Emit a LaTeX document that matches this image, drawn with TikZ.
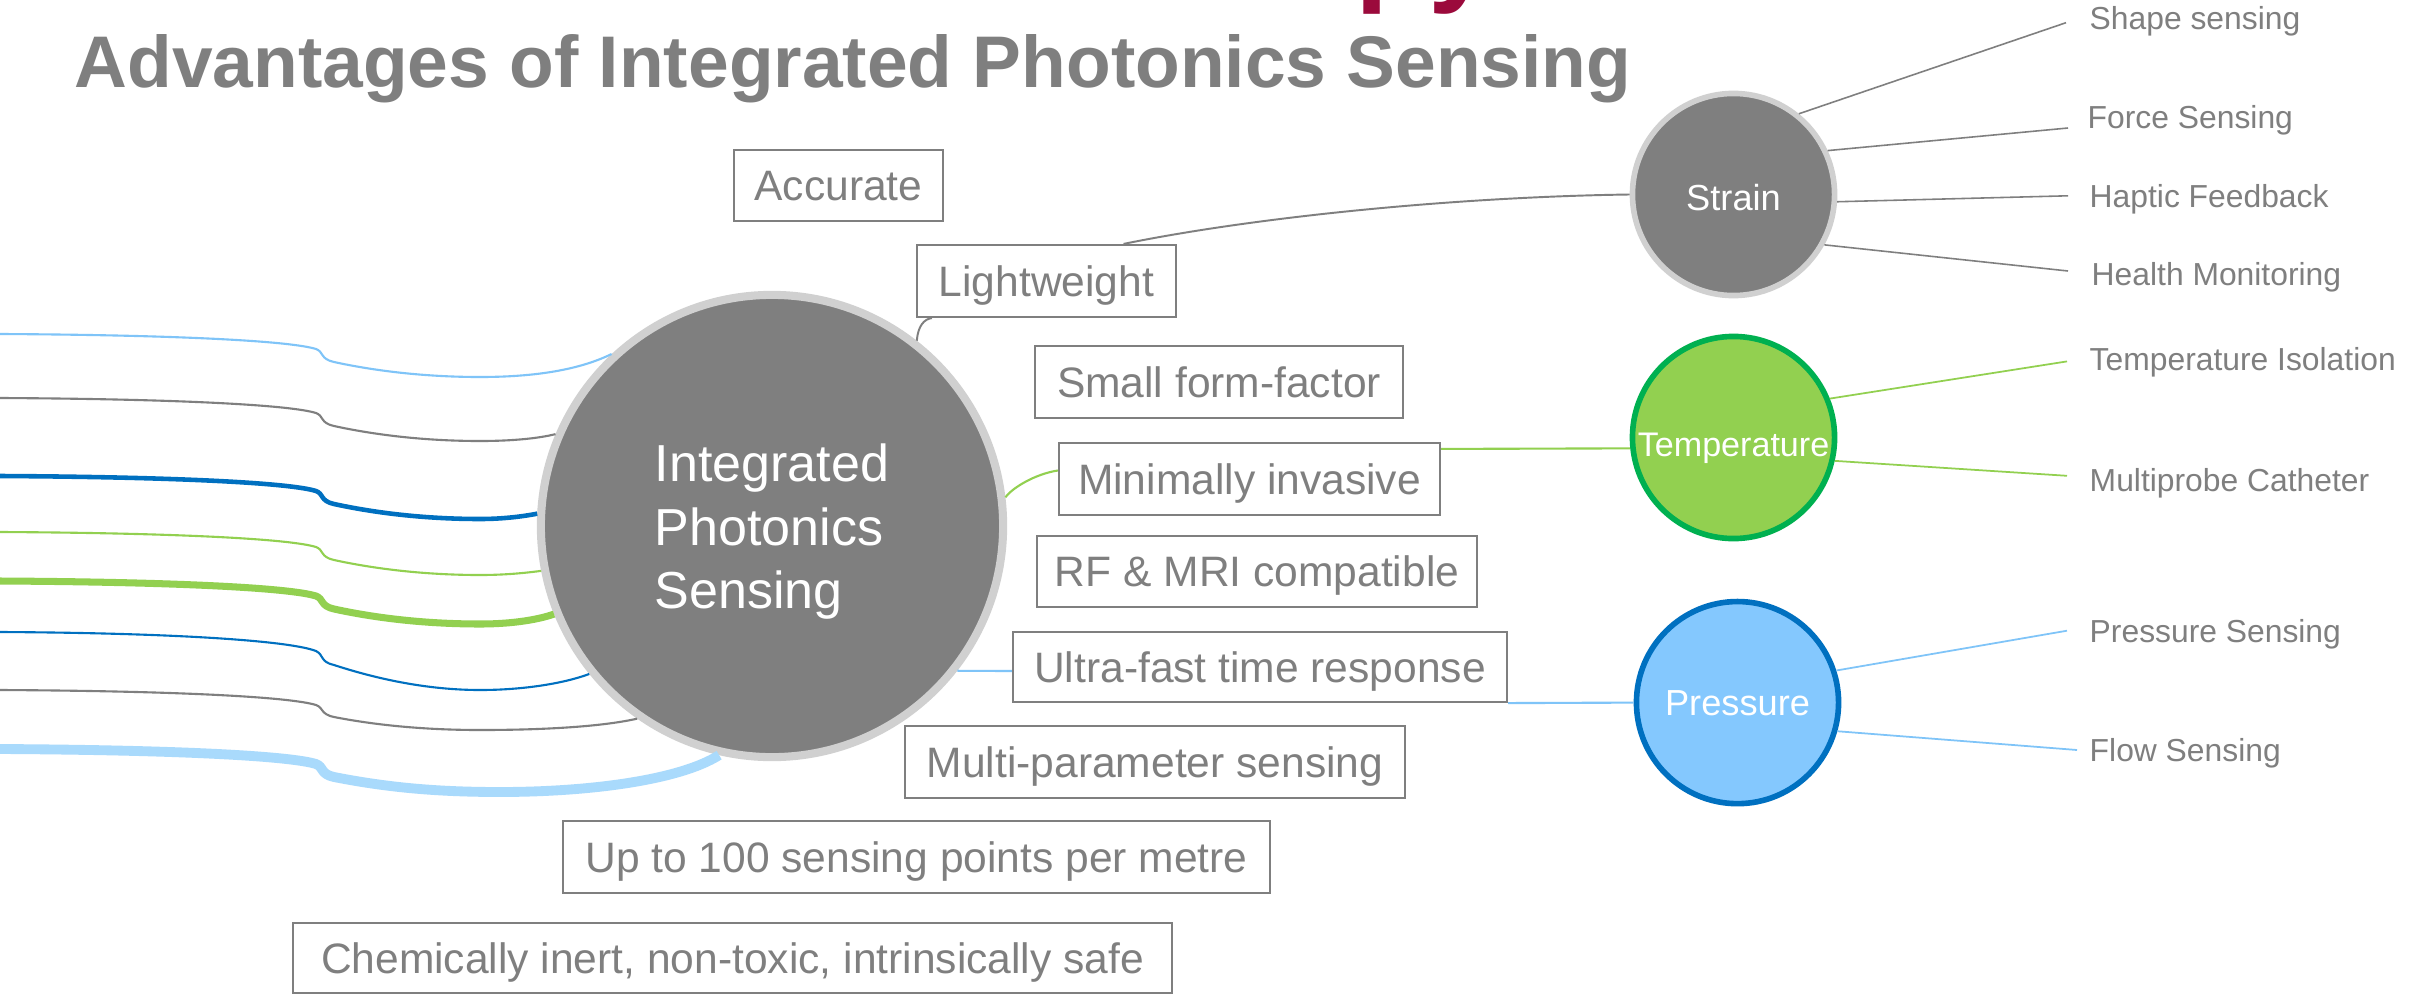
\documentclass[tikz,border=0pt]{standalone}
\usepackage{fontspec}
\setmainfont{Liberation Sans}
\usetikzlibrary{calc}
\definecolor{tgray}{HTML}{7F7F7F}
\definecolor{ringgray}{HTML}{D0D0D0}
\definecolor{lgreen}{HTML}{92D050}
\definecolor{dgreen}{HTML}{00B050}
\definecolor{lblue}{HTML}{84C8FE}
\definecolor{dblue}{HTML}{0070C0}
\definecolor{lbline}{HTML}{7FC4F8}
\definecolor{paleblue}{HTML}{A9DAFC}
\definecolor{headred}{HTML}{9B0A3C}
\begin{document}
\begin{tikzpicture}[x=0.01cm,y=0.01cm,
  advbox/.style={draw=tgray, line width=0.6pt, fill=white, text=tgray, inner sep=0pt,
    minimum height=0.71cm, font=\fontsize{12.1pt}{14pt}\selectfont, text height=8.66pt, text depth=0pt},
  leaf/.style={anchor=west, inner sep=0pt, text=tgray, font=\fontsize{9.05pt}{10.5pt}\selectfont,
    text height=6.48pt, text depth=0pt},
  bubble/.style={circle, inner sep=0pt, line width=1.6pt, minimum size=2.02cm, text=white},
  sline/.style={draw=tgray, line width=0.45pt},
  tline/.style={draw=lgreen, line width=0.5pt},
  pline/.style={draw=lbline, line width=0.5pt},
  branch/.style={line join=round}]
\useasboundingbox (0,0) rectangle (2419,-994);
\clip (0,0) rectangle (2419,-994);
\fill[white] (0,0) rectangle (2419,-994);

% heading fragments
\node[anchor=base west, inner sep=0pt, text=headred, font=\fontsize{34pt}{40pt}\selectfont\bfseries] (head) at (1355,10) {py};
\node[anchor=base west, inner sep=0pt, text=tgray, font=\fontsize{20.8pt}{24pt}\selectfont\bfseries] (title) at (74,-88) {Advantages of Integrated Photonics Sensing};

% central circle
\node[circle, fill=tgray, draw=ringgray, line width=2.3pt, minimum size=4.62cm, inner sep=0pt, text=white,
  font=\fontsize{14.8pt}{18.07pt}\selectfont] (main) at (772,-526)
  {\raisebox{-1.8pt}[\height][\depth]{\begin{tabular}{@{}l@{}}Integrated\\Photonics\\Sensing\end{tabular}}};

% category circles
\node[bubble, fill=tgray, draw=ringgray, font=\fontsize{10.3pt}{12pt}\selectfont, text height=9pt, text depth=0pt] (strain) at (1733.5,-194.5) {Strain};
\node[bubble, fill=lgreen, draw=dgreen, font=\fontsize{9.7pt}{11pt}\selectfont, text height=10.9pt, text depth=0pt] (temp) at (1733.5,-437.5) {Temperature};
\node[bubble, fill=lblue, draw=dblue, font=\fontsize{10.3pt}{12pt}\selectfont, text height=7.35pt, text depth=0pt] (pres) at (1737.5,-702.6) {Pressure};

% advantage boxes
\node[advbox, minimum width=2.09cm] (acc) at (838.5,-185.5) {Accurate};
\node[advbox, minimum width=2.59cm, minimum height=0.72cm] (lw) at (1046.5,-281) {Lightweight};
\node[advbox, minimum width=3.68cm, minimum height=0.72cm] (sff) at (1219,-382) {Small form-factor};
\node[advbox, minimum width=3.81cm, minimum height=0.72cm] (mi) at (1249.5,-479) {Minimally invasive};
\node[advbox, minimum width=4.40cm] (rf) at (1257,-571.5) {RF \& MRI compatible};
\node[advbox, minimum width=4.94cm, minimum height=0.70cm] (uf) at (1260,-667) {Ultra-fast time response};
\node[advbox, minimum width=5.00cm, minimum height=0.72cm] (mp) at (1155,-762) {Multi-parameter sensing};
\node[advbox, minimum width=7.07cm, minimum height=0.72cm] (up) at (916.5,-857) {Up to 100 sensing points per metre};
\node[advbox, minimum width=8.79cm, minimum height=0.70cm] (chem) at (732.5,-958) {Chemically inert, non-toxic, intrinsically safe};

% leaf labels
\node[leaf] (shape) at (2089,-18.3) {Shape sensing};
\node[leaf] (force) at (2087,-116.7) {Force Sensing};
\node[leaf] (haptic) at (2089,-195.8) {Haptic Feedback};
\node[leaf] (health) at (2091,-274.5) {Health Monitoring};
\node[leaf] (tiso) at (2089,-359.2) {Temperature Isolation};
\node[leaf] (mpc) at (2089,-479.8) {Multiprobe Catheter};
\node[leaf] (psens) at (2089,-630.7) {Pressure Sensing};
\node[leaf] (flow) at (2089,-750) {Flow Sensing};

% leaf connectors
\draw[sline] (strain.51) -- ([xshift=-0.23cm,yshift=-0.044cm]shape.west);
\draw[sline] (strain.25) -- ([xshift=-0.19cm,yshift=-0.113cm]force.west);
\draw[sline] (strain.-4.6) -- ([xshift=-0.21cm]haptic.west);
\draw[sline] (strain.-29) -- ([xshift=-0.23cm,yshift=0.035cm]health.west);
\draw[tline] (temp.22) -- ([xshift=-0.22cm,yshift=-0.022cm]tiso.west);
\draw[tline] (temp.-13) -- ([xshift=-0.22cm,yshift=0.04cm]mpc.west);
\draw[pline] (pres.18) -- ([xshift=-0.22cm]psens.west);
\draw[pline] (pres.-16.7) -- ([xshift=-0.12cm]flow.west);

% central connectors
\draw[sline, line width=0.55pt] (main.52) .. controls (918,-326) and (924,-319) .. ([xshift=0.16cm]lw.south west);
\draw[sline, line width=0.55pt] ([xshift=0.77cm]lw.north) .. controls (1250,-218) and (1450,-197) .. (strain.west);
\draw[tline, line width=0.6pt] (main.7) .. controls (1012,-488) and (1035,-474) .. ([yshift=0.085cm]mi.west);
\draw[tline, line width=0.6pt] ([yshift=-0.07cm]mi.north east) -- (temp.186.5);
\draw[pline, line width=0.6pt] (main.-38) -- ([yshift=-0.04cm]uf.west);
\draw[pline, line width=0.6pt] (uf.south east) -- (pres.west);

% left branches
\draw[branch, draw=lbline, line width=0.6pt] (0,-334) .. controls (180,-335) and (290,-341) .. (316,-349) .. controls (324,-352) and (320,-359) .. (334,-362) .. controls (380,-372) and (430,-377) .. (480,-377) .. controls (545,-377) and (585,-367) .. (main.133.6);
\draw[branch, draw=tgray, line width=0.6pt] (0,-398) .. controls (180,-399) and (290,-405) .. (316,-413) .. controls (324,-416) and (320,-423) .. (334,-426) .. controls (380,-436) and (430,-441) .. (480,-441) .. controls (515,-441) and (540,-438) .. (main.157);
\draw[branch, draw=dblue, line width=1.3pt] (0,-476) .. controls (180,-477) and (290,-483) .. (316,-491) .. controls (324,-494) and (320,-501) .. (334,-504) .. controls (380,-514) and (430,-519) .. (480,-519) .. controls (505,-519) and (525,-516) .. (main.177);
\draw[branch, draw=lgreen, line width=0.6pt] (0,-532) .. controls (180,-533) and (290,-539) .. (316,-547) .. controls (324,-550) and (320,-557) .. (334,-560) .. controls (380,-570) and (430,-575) .. (480,-575) .. controls (505,-575) and (525,-573) .. (main.191);
\draw[branch, draw=lgreen, line width=2pt] (0,-581) .. controls (180,-582) and (290,-588) .. (316,-596) .. controls (324,-599) and (320,-606) .. (334,-609) .. controls (380,-619) and (430,-624) .. (480,-624) .. controls (515,-624) and (540,-619) .. (main.202);
\draw[branch, draw=dblue, line width=0.6pt] (0,-632) .. controls (180,-633) and (290,-641) .. (316,-651) .. controls (324,-655) and (320,-662) .. (334,-665) .. controls (380,-680) and (430,-690) .. (480,-690) .. controls (525,-690) and (565,-683) .. (main.219);
\draw[branch, draw=tgray, line width=0.6pt] (0,-690) .. controls (180,-691) and (290,-697) .. (316,-705) .. controls (324,-708) and (320,-714) .. (334,-717) .. controls (380,-726) and (430,-730) .. (480,-730) .. controls (550,-730) and (605,-726) .. (main.235);
\draw[branch, draw=paleblue, line width=2.8pt] (0,-749) .. controls (180,-750) and (290,-756) .. (316,-764) .. controls (324,-767) and (320,-774) .. (334,-777) .. controls (390,-788) and (440,-792) .. (500,-792) .. controls (590,-792) and (680,-780) .. (main.257);
\end{tikzpicture}
\end{document}
